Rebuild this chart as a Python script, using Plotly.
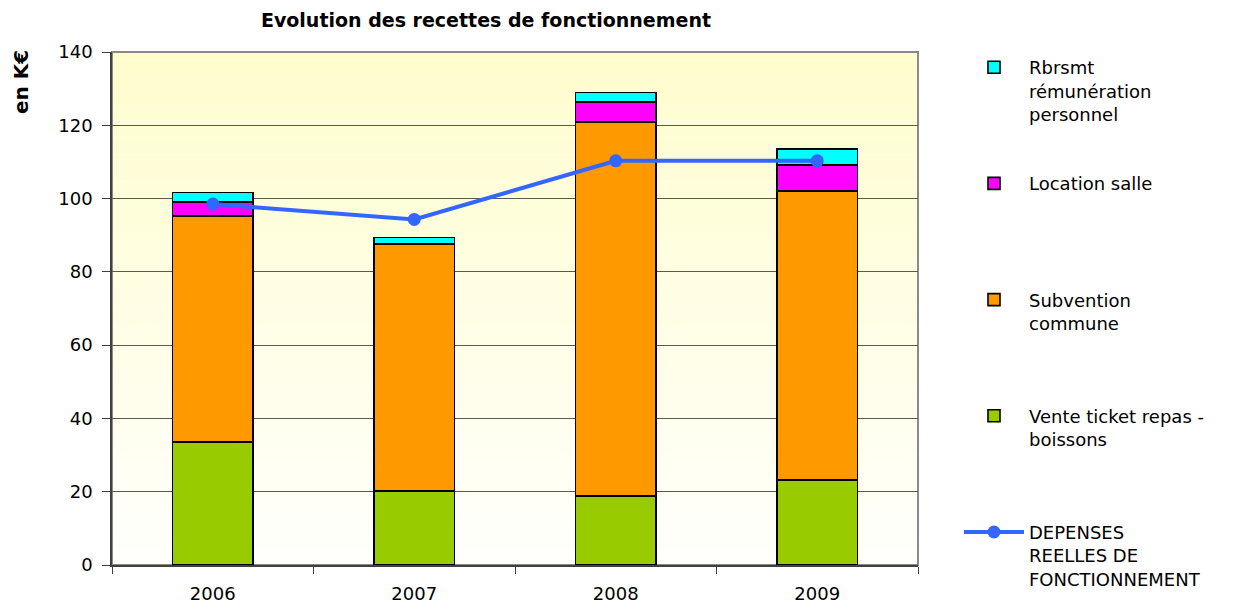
import plotly.graph_objects as go

years = ["2006", "2007", "2008", "2009"]
vente = [33.6, 20.2, 18.8, 23.2]
subvention = [61.7, 67.4, 102.1, 78.9]
location = [3.8, 0.0, 5.5, 7.1]
rbrsmt = [2.6, 1.8, 2.6, 4.3]
depenses = [98.5, 94.3, 110.3, 110.3]

FONT = "DejaVu Sans, Liberation Sans, Arial, sans-serif"
OFF = 8  # page body margin
fig = go.Figure()

def bar(name, vals, color, rank):
    fig.add_trace(go.Bar(
        x=years, y=vals, name=name, marker=dict(color=color, line=dict(color="black", width=1.6)),
        width=0.4, legendgroup=name, legendrank=rank))

bar("Vente ticket repas -<br>boissons<br> ", vente, "#99CC00", 4)
bar("Subvention<br>commune<br> ", subvention, "#FF9900", 3)
bar("Location salle<br> <br> ", location, "#FF00FF", 2)
bar("Rbrsmt<br>rémunération<br>personnel", rbrsmt, "#00FFFF", 1)

fig.add_trace(go.Scatter(
    x=years, y=depenses, name="DEPENSES<br>REELLES DE<br>FONCTIONNEMENT", mode="lines+markers",
    line=dict(color="#3366FF", width=4), marker=dict(size=13, color="#3366FF"),
    legendgroup="dep", legendrank=5))

# gradient background
shapes = []
n = 60
top = (255, 253, 204)
bot = (255, 255, 252)
for i in range(n):
    t = i / (n - 1)
    c = tuple(round(top[k] + (bot[k] - top[k]) * t) for k in range(3))
    shapes.append(dict(type="rect", xref="x domain", yref="y domain",
                       x0=0, x1=1, y0=1 - (i + 1) / n, y1=1 - i / n,
                       fillcolor="rgb(%d,%d,%d)" % c, line=dict(width=0), layer="below"))
shapes.append(dict(type="rect", xref="x domain", yref="y domain", x0=0, x1=1, y0=0, y1=1,
                   line=dict(color="#8a8a8a", width=2), fillcolor="rgba(0,0,0,0)", layer="below"))

L, R, T, B = 112 - OFF, 918 - OFF, 52 - OFF, 565 - OFF
PW, PH = R - L, B - T

fig.update_layout(
    width=1254, height=603,
    margin=dict(l=L, r=1254 - R, t=T, b=603 - B, autoexpand=False),
    paper_bgcolor="white", plot_bgcolor="white",
    barmode="stack",
    font=dict(family=FONT, size=18, color="black"),
    title=dict(text="<b>Evolution des recettes de fonctionnement</b>", x=(486 - OFF) / 1254,
               xanchor="center", y=1 - (20 - OFF) / 603, yanchor="middle",
               font=dict(size=19, family=FONT)),
    shapes=shapes,
    showlegend=True,
    legend=dict(x=(951 - L) / PW, xanchor="left", y=1 + 3 / PH, yanchor="top",
                traceorder="grouped", tracegroupgap=43, itemwidth=60, valign="top",
                maxheight=600,
                font=dict(size=18, family=FONT), bgcolor="rgba(0,0,0,0)"),
    annotations=[dict(text="<b>en K€</b>", textangle=-90, xref="paper", yref="paper",
                      x=(21 - OFF - L) / PW, y=1 - (82 - 52) / PH, xanchor="center", yanchor="middle",
                      showarrow=False, font=dict(size=20, family=FONT))],
)
fig.update_yaxes(range=[0, 140], dtick=20, showgrid=True, gridcolor="#5a5a4a", gridwidth=1,
                 showline=True, linecolor="#404040", linewidth=1.5, ticks="outside", ticklen=8,
                 tickcolor="#404040", ticklabelstandoff=6, zeroline=False)
fig.update_xaxes(showline=True, linecolor="#404040", linewidth=1.5, ticks="outside", ticklen=7,
                 tickcolor="#404040", tickson="boundaries", ticklabelstandoff=12, showgrid=False)

fig.write_html("out.html")
